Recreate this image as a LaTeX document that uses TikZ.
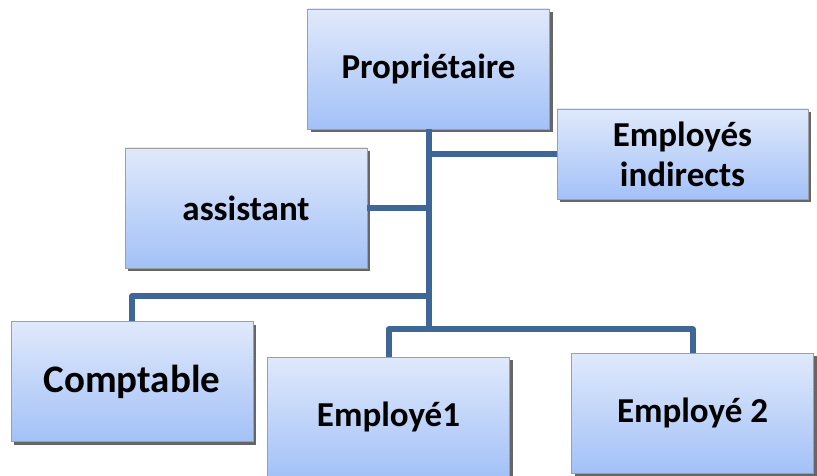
\documentclass[tikz,border=0pt]{standalone}
\usepackage{fontspec}
\setmainfont{Carlito}
\usetikzlibrary{calc}
\usetikzlibrary{shadows}

\definecolor{boxtop}{HTML}{E0E9FB}
\definecolor{boxbot}{HTML}{A3C1F7}
\definecolor{linkblue}{HTML}{3E6697}

\begin{document}
\begin{tikzpicture}[
        x=1pt, y=-1pt,
        box/.style={draw=gray!75, line width=0.8pt, top color=boxtop, bottom color=boxbot,
            minimum width=242pt, minimum height=120pt, inner sep=0pt,
            font=\bfseries\fontsize{35}{40}\selectfont, align=center,
            drop shadow={shadow xshift=3pt, shadow yshift=-3pt, fill=black!60, opacity=1}},
        link/.style={draw=linkblue, line width=6pt, line join=round}
    ]
        \useasboundingbox (0,0) rectangle (817,476);
        \clip (0,0) rectangle (817,476);
        % boxes
        \node[box] (prop) at (428.5,69) {Propriétaire};
        \node[box, minimum width=251pt, minimum height=90pt] (indir) at (682.5,154) {Employés\\indirects};
        \node[box] (asst) at (246,208) {assistant};
        \node[box, font=\bfseries\fontsize{39}{44}\selectfont] (comp) at (132,381.5) {Comptable};
        \node[box] (emp1) at (388.5,417) {Employé1};
        \node[box] (emp2) at (692.5,413) {Employé 2};
        % links
        \coordinate (j1) at ($(prop.south)+(0,167)$);
        \coordinate (j2) at ($(prop.south)+(0,200)$);
        \begin{scope}[on background layer/.try]
        \draw[link] (prop.south) -- (j2);
        \draw[link] (indir.west) -- (indir.west -| prop.south);
        \draw[link] (asst.east) -- (asst.east -| prop.south);
        \draw[link] (j1) -| (comp.north);
        \draw[link] (emp1.north) |- (j2) -| (emp2.north);
        \end{scope}
    \end{tikzpicture}
\end{document}
